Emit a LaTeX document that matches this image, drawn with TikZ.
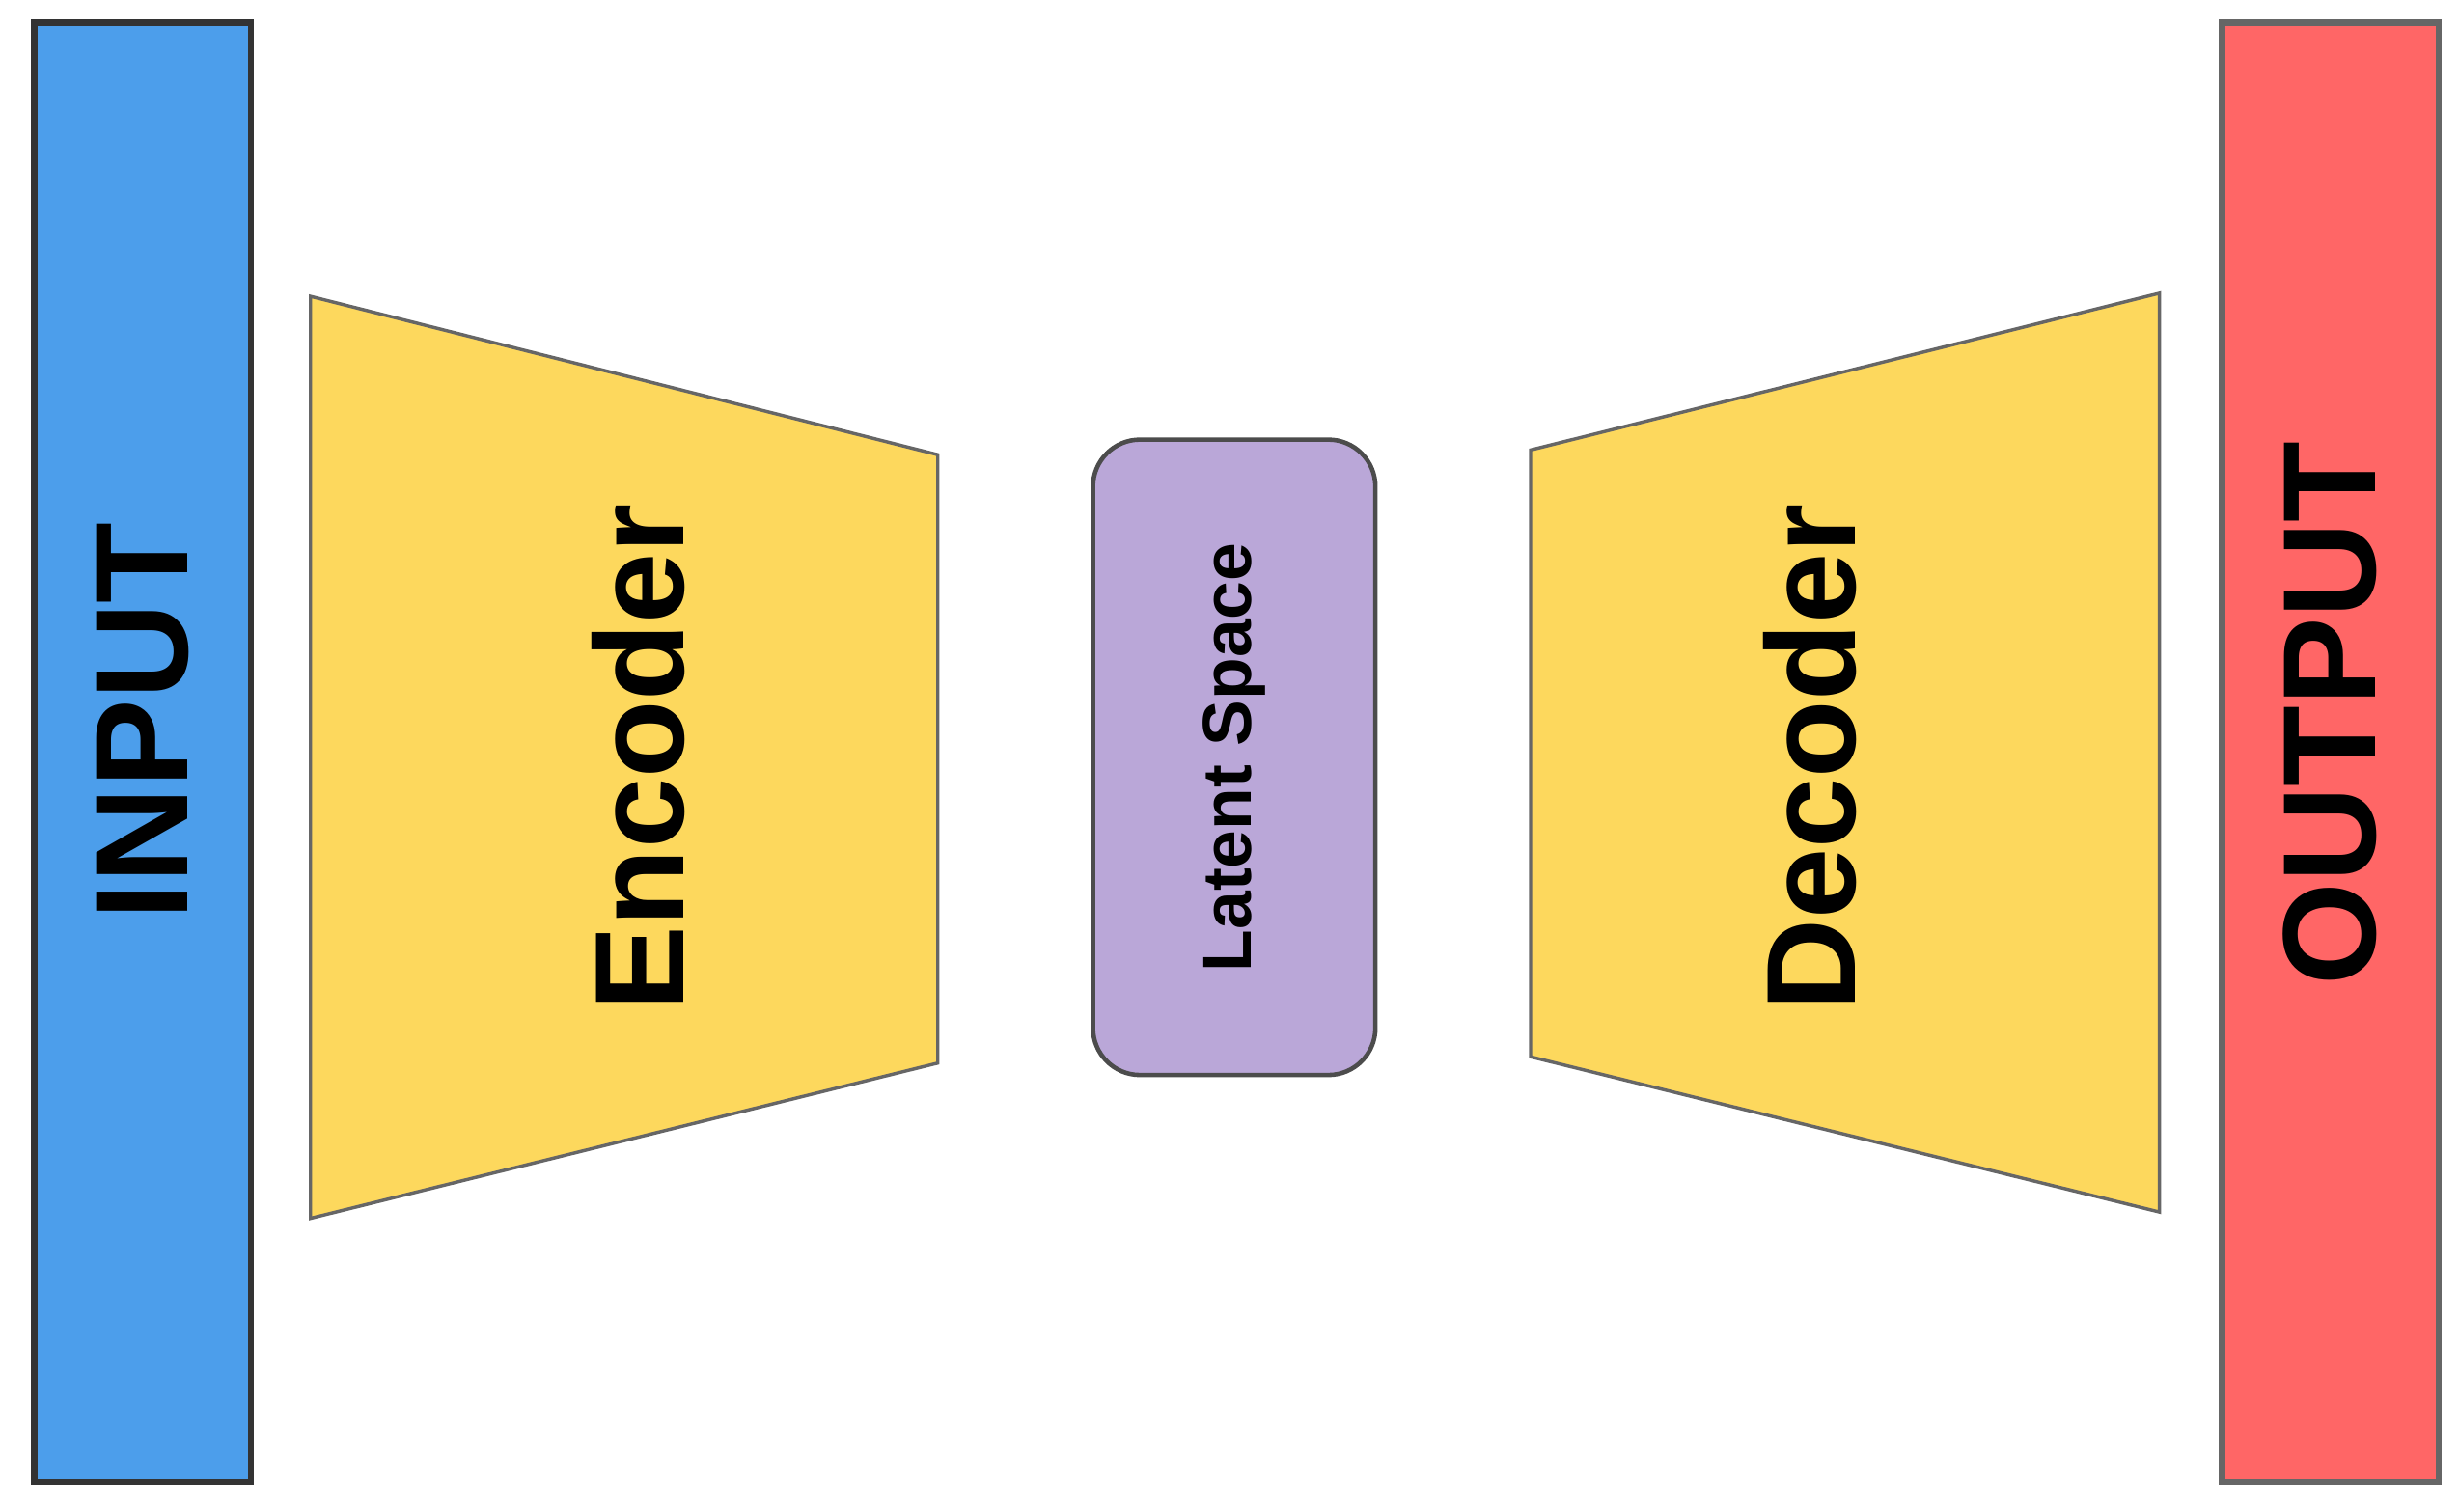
\documentclass[tikz,border=0pt]{standalone}
\usepackage{fontspec}
\setmainfont{Liberation Sans}
\usetikzlibrary{positioning}
\definecolor{inblue}{HTML}{4C9EEB}
\definecolor{outred}{HTML}{FF6666}
\definecolor{codeyellow}{HTML}{FDD85D}
\definecolor{latpurple}{HTML}{BAA7D8}
\tikzset{
  bar/.style={draw=black!80, line width=1.2pt, minimum width=1.38cm, minimum height=9.3cm, inner sep=0pt},
  coder/.style={draw=black!60, line width=0.6pt, fill=codeyellow},
  lbl/.style={rotate=90, font=\bfseries\fontsize{23}{26}\selectfont},
}
\begin{document}
\begin{tikzpicture}[x=0.01cm, y=-0.01cm]
    \useasboundingbox (0,0) rectangle (1568,964);
    % Input and output bars
    \node [bar, fill=inblue] (input) at (91,480) {};
    \node [bar, fill=outred, draw=black!60] (output) at (1486,480) {};
    \node [lbl, font=\bfseries\fontsize{24}{26}\selectfont] (inputtxt) at (91,460) {INPUT};
    \node [lbl, font=\bfseries\fontsize{24}{26}\selectfont] (outputtxt) at (1486,455) {OUTPUT};

    % Encoder and decoder
    \draw [coder] (198,189) -- (598,290) -- (598,678) -- (198,777) -- cycle;
    \draw [coder] (976,287) -- (1377,187) -- (1377,773) -- (976,674) -- cycle;
    \node [lbl] (enc) at (407,483) {Encoder};
    \node [lbl] (dec) at (1154,483) {Decoder};

    % Latent space
    \node [draw=black!70, line width=0.8pt, fill=latpurple, rounded corners=0.3cm,
           minimum width=1.8cm, minimum height=4.05cm] (latent) at (787,483) {};
    \node [rotate=90, font=\bfseries\fontsize{12.5}{14}\selectfont] (latenttxt) at (latent) {Latent Space};
\end{tikzpicture}
\end{document}
